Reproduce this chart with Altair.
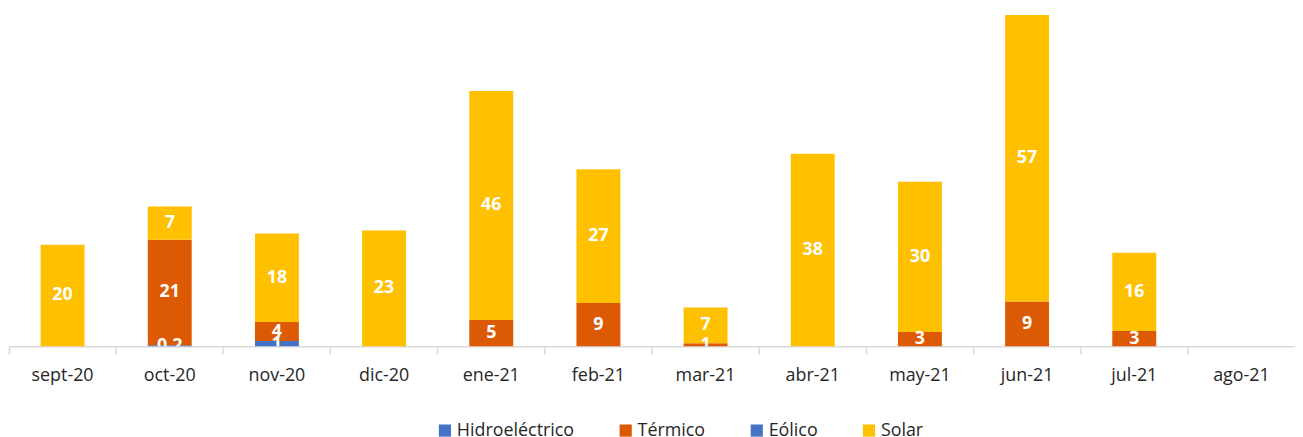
import altair as alt
import pandas as pd

categories = ["sept-20", "oct-20", "nov-20", "dic-20", "ene-21", "feb-21",
              "mar-21", "abr-21", "may-21", "jun-21", "jul-21", "ago-21"]
series = ["Hidroeléctrico", "Térmico", "Eólico", "Solar"]
colors = ["#4472C4", "#DD5A04", "#4472C4", "#FFC000"]

hidro = [0, 0.2, 1, 0, 0, 0, 0, 0, 0, 0, 0, 0]
termico = [0, 21, 3.8, 0, 5.2, 8.6, 0.6, 0, 2.8, 8.9, 3, 0]
eolico = [0, 0, 0, 0, 0, 0, 0, 0, 0, 0, 0, 0]
solar = [20.2, 6.6, 17.6, 23, 45.6, 26.6, 7.1, 38.3, 29.9, 57, 15.6, 0]

rows = []
for i, c in enumerate(categories):
    for k, (s, vals) in enumerate(zip(series, [hidro, termico, eolico, solar])):
        v = vals[i]
        lbl = f"{v:.1f}" if v < 0.5 else f"{v:.0f}"
        rows.append({"cat": c, "serie": s, "ord": k, "value": v, "lbl": lbl})
df = pd.DataFrame(rows)

FONT = "Open Sans"

x = alt.X("cat:N", sort=categories, title=None,
          scale=alt.Scale(domain=categories, paddingInner=0, paddingOuter=0),
          axis=alt.Axis(bandPosition=0, labelAngle=0, labelFontSize=18,
                        labelColor="#262626", labelFont=FONT, domainColor="#d9d9d9",
                        tickColor="#d9d9d9", tickSize=8, labelPadding=13,
                        domainWidth=1.5, tickWidth=1.5))
yscale = alt.Scale(domain=[0, 67.0], nice=False)

base = alt.Chart(df).transform_filter("datum.value > 0")

bars = base.mark_bar(width=alt.RelativeBandSize(0.41)).encode(
    x=x,
    y=alt.Y("value:Q", stack="zero", scale=yscale, axis=None),
    color=alt.Color("serie:N", scale=alt.Scale(domain=series, range=colors),
                    legend=alt.Legend(title=None, orient="none", direction="horizontal",
                                      legendX=430, legendY=415, symbolType="square",
                                      symbolSize=150, symbolStrokeWidth=0,
                                      labelFontSize=18, labelFont=FONT,
                                      labelColor="#262626", columnPadding=42,
                                      labelOffset=3, labelLimit=300)),
    order=alt.Order("ord:Q", sort="ascending"),
)

labels = base.transform_stack(
    stack="value", groupby=["cat"], as_=["y0", "y1"],
    sort=[alt.SortField("ord", order="ascending")]
).transform_calculate(mid="(datum.y0 + datum.y1) / 2").mark_text(
    color="white", fontWeight="bold", fontSize=18, font=FONT, clip=True,
    baseline="middle"
).encode(
    x=x,
    y=alt.Y("mid:Q", scale=yscale, axis=None),
    text="lbl:N",
)

chart = alt.layer(bars, labels).properties(
    width=1295, height=339,
    padding={"left": 0, "top": 0, "right": 0, "bottom": 0}
).configure_view(stroke=None)

chart.save("out.html", embed_options={"renderer": "svg", "actions": False})
